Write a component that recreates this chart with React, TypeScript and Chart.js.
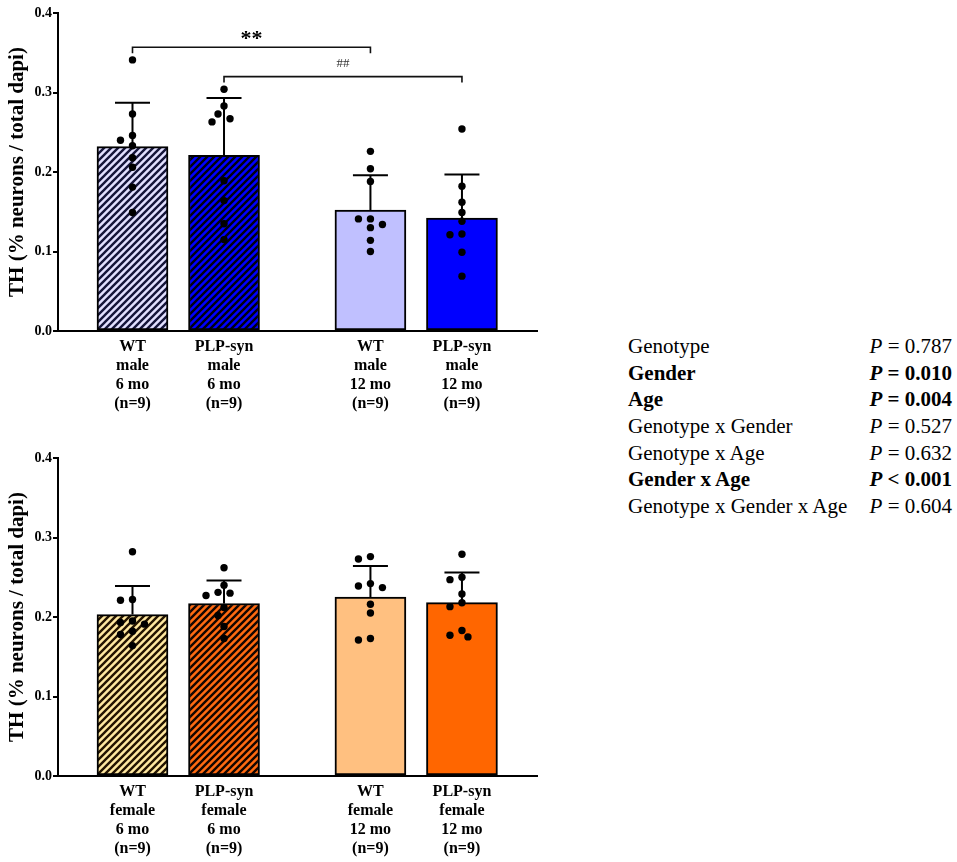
import React, { useEffect, useRef } from 'react';
import { Chart, registerables } from 'chart.js';

Chart.register(...registerables);

// ---------------- data ----------------
const positions = [0, 1, 2.6, 3.6];

const maleLabels = [
  ['WT', 'male', '6 mo', '(n=9)'],
  ['PLP-syn', 'male', '6 mo', '(n=9)'],
  ['WT', 'male', '12 mo', '(n=9)'],
  ['PLP-syn', 'male', '12 mo', '(n=9)'],
];
const femaleLabels = [
  ['WT', 'female', '6 mo', '(n=9)'],
  ['PLP-syn', 'female', '6 mo', '(n=9)'],
  ['WT', 'female', '12 mo', '(n=9)'],
  ['PLP-syn', 'female', '12 mo', '(n=9)'],
];

const maleMeans = [0.232, 0.221, 0.152, 0.142];
const maleSD = [0.055, 0.072, 0.044, 0.055];
const malePoints = [
  [0.341, 0.273, 0.246, 0.240, 0.233, 0.218, 0.206, 0.181, 0.149],
  [0.304, 0.283, 0.273, 0.267, 0.263, 0.189, 0.164, 0.135, 0.115],
  [0.226, 0.204, 0.188, 0.141, 0.141, 0.134, 0.130, 0.114, 0.100],
  [0.254, 0.182, 0.162, 0.149, 0.138, 0.121, 0.122, 0.099, 0.069],
];

const femaleMeans = [0.203, 0.217, 0.225, 0.218];
const femaleSD = [0.036, 0.029, 0.039, 0.038];
const femalePoints = [
  [0.282, 0.221, 0.222, 0.195, 0.191, 0.193, 0.182, 0.178, 0.164],
  [0.262, 0.240, 0.227, 0.231, 0.230, 0.212, 0.202, 0.188, 0.173],
  [0.276, 0.273, 0.237, 0.242, 0.239, 0.216, 0.205, 0.173, 0.171],
  [0.279, 0.250, 0.247, 0.229, 0.218, 0.213, 0.183, 0.177, 0.175],
];

const maleBrackets = [
  { from: 0, to: 2, y: 0.357, text: '**', strong: true },
  { from: 1, to: 3, y: 0.320, text: '##', strong: false },
];
const femaleBrackets: typeof maleBrackets = [];

const yTicks = [0, 0.1, 0.2, 0.3, 0.4];
const yTitle = 'TH (% neurons / total dapi)';

const statNames = ['Genotype', 'Gender', 'Age', 'Genotype x Gender', 'Genotype x Age', 'Gender x Age', 'Genotype x Gender x Age'];
const statOps = ['=', '=', '=', '=', '=', '<', '='];
const statValues = ['0.787', '0.010', '0.004', '0.527', '0.632', '0.001', '0.604'];
const statBold = [false, true, true, false, false, true, false];

// ---------------- styles ----------------
const SERIF = "'Liberation Serif', 'Times New Roman', serif";
const W = 560;
const H = 414;

type Fill = { bg: string; fg?: string };
const maleFills: Fill[] = [
  { bg: '#e2e0ff', fg: '#15153a' },
  { bg: '#0000ff', fg: '#000010' },
  { bg: '#c0c0ff' },
  { bg: '#0000ff' },
];
const femaleFills: Fill[] = [
  { bg: '#ffe8a0', fg: '#241400' },
  { bg: '#ff6a10', fg: '#140600' },
  { bg: '#ffc080' },
  { bg: '#ff6600' },
];

function makeHatch(bg: string, fg: string): CanvasPattern | string {
  const s = 7;
  const c = document.createElement('canvas');
  c.width = s;
  c.height = s;
  const g = c.getContext('2d');
  if (!g) return bg;
  g.fillStyle = bg;
  g.fillRect(0, 0, s, s);
  g.strokeStyle = fg;
  g.lineWidth = 2.4;
  g.beginPath();
  g.moveTo(0, s);
  g.lineTo(s, 0);
  g.moveTo(-s / 2, s / 2);
  g.lineTo(s / 2, -s / 2);
  g.moveTo(s / 2, s * 1.5);
  g.lineTo(s * 1.5, s / 2);
  g.stroke();
  return g.createPattern(c, 'repeat') || bg;
}

function swarm(ys: number[], step: number, minD: number): number[] {
  const order = ys.map((_, i) => i).sort((a, b) => ys[a] - ys[b]);
  const placed: { x: number; y: number }[] = [];
  const offs = ys.map(() => 0);
  const cands = [0, -1, 1, -2, 2, -3, 3];
  for (const i of order) {
    for (const k of cands) {
      const x = k * step;
      if (placed.every((p) => Math.hypot(p.x - x, p.y - ys[i]) >= minD)) {
        offs[i] = x;
        placed.push({ x, y: ys[i] });
        break;
      }
    }
  }
  return offs;
}

function makeOverlay(means: number[], sds: number[], points: number[][], brackets: typeof maleBrackets) {
  return {
    id: 'overlay',
    afterDatasetsDraw(chart: any) {
      const { ctx } = chart;
      const xs = chart.scales.x;
      const ysc = chart.scales.y;
      ctx.save();
      // error bars (upper only)
      ctx.strokeStyle = '#000';
      ctx.lineWidth = 2;
      positions.forEach((p, i) => {
        const cx = xs.getPixelForValue(p);
        const y0 = ysc.getPixelForValue(means[i]);
        const y1 = ysc.getPixelForValue(means[i] + sds[i]);
        ctx.beginPath();
        ctx.moveTo(cx, y0);
        ctx.lineTo(cx, y1);
        ctx.moveTo(cx - 17.5, y1);
        ctx.lineTo(cx + 17.5, y1);
        ctx.stroke();
      });
      // individual points
      ctx.fillStyle = '#000';
      positions.forEach((p, i) => {
        const cx = xs.getPixelForValue(p);
        const pys = points[i].map((v) => ysc.getPixelForValue(v));
        const offs = swarm(pys, 6, 8.5);
        pys.forEach((py, j) => {
          ctx.beginPath();
          ctx.arc(cx + offs[j], py, 3.7, 0, Math.PI * 2);
          ctx.fill();
        });
      });
      // significance brackets
      brackets.forEach((b) => {
        const xa = xs.getPixelForValue(positions[b.from]);
        const xb = xs.getPixelForValue(positions[b.to]);
        const yy = ysc.getPixelForValue(b.y);
        ctx.strokeStyle = '#111';
        ctx.lineWidth = 1.6;
        ctx.beginPath();
        ctx.moveTo(xa, yy + 6);
        ctx.lineTo(xa, yy);
        ctx.lineTo(xb, yy);
        ctx.lineTo(xb, yy + 6);
        ctx.stroke();
        ctx.textAlign = 'center';
        ctx.textBaseline = 'alphabetic';
        if (b.strong) {
          ctx.fillStyle = '#000';
          ctx.font = `bold 22px ${SERIF}`;
          ctx.fillText(b.text, (xa + xb) / 2, yy - 2);
        } else {
          ctx.fillStyle = '#333';
          ctx.font = `13px ${SERIF}`;
          ctx.fillText(b.text, (xa + xb) / 2, yy - 10);
        }
      });
      ctx.restore();
    },
  };
}

type PanelProps = {
  top: number;
  means: number[];
  sds: number[];
  points: number[][];
  labels: string[][];
  fills: Fill[];
  brackets: typeof maleBrackets;
};

function Panel({ top, means, sds, points, labels, fills, brackets }: PanelProps) {
  const ref = useRef<HTMLCanvasElement>(null);
  useEffect(() => {
    const canvas = ref.current;
    if (!canvas) return;
    const bgs = fills.map((f) => (f.fg ? makeHatch(f.bg, f.fg) : f.bg));
    const chart = new Chart(canvas, {
      type: 'bar',
      data: {
        datasets: [
          {
            data: positions.map((x, i) => ({ x, y: means[i] })),
            backgroundColor: bgs as any,
            borderColor: '#000',
            borderWidth: 2,
            borderSkipped: false,
            barThickness: 71,
          } as any,
        ],
      },
      options: {
        animation: false,
        responsive: false,
        events: [],
        layout: { padding: { top: 13, left: 0, right: W - 537, bottom: 0 } },
        plugins: { legend: { display: false }, tooltip: { enabled: false }, title: { display: false } },
        scales: {
          x: {
            type: 'linear',
            min: -0.814,
            max: 4.42,
            offset: false,
            grid: { display: false, drawTicks: false, offset: false },
            border: { display: true, color: '#000', width: 2 },
            afterBuildTicks: (s: any) => {
              s.ticks = positions.map((v) => ({ value: v }));
            },
            afterFit: (s: any) => {
              s.height = H - 331;
            },
            ticks: {
              autoSkip: false,
              maxRotation: 0,
              minRotation: 0,
              padding: 6,
              color: '#000',
              font: { family: SERIF, weight: 'bold', size: 16, lineHeight: 1.2 },
              callback: (_v: any, i: number) => labels[i],
            },
          },
          y: {
            min: 0,
            max: 0.4,
            afterBuildTicks: (s: any) => {
              s.ticks = yTicks.map((v) => ({ value: v }));
            },
            afterFit: (s: any) => {
              s.width = 58;
            },
            grid: { drawOnChartArea: false, drawTicks: true, tickLength: 5, color: '#000', lineWidth: 2 },
            border: { display: true, color: '#000', width: 2 },
            ticks: {
              padding: 1,
              color: '#000',
              font: { family: SERIF, weight: 'bold', size: 14 },
              callback: (v: any) => Number(v).toFixed(1),
            },
            title: {
              display: true,
              text: yTitle,
              color: '#000',
              font: { family: SERIF, weight: 'bold', size: 21 },
              padding: { top: 5, bottom: 0 },
            },
          },
        },
      },
      plugins: [makeOverlay(means, sds, points, brackets)],
    } as any);
    return () => chart.destroy();
  }, []);
  return (
    <canvas
      ref={ref}
      width={W}
      height={H}
      style={{ position: 'absolute', left: 0, top, width: W, height: H }}
    />
  );
}

function Stats() {
  return (
    <div
      style={{
        position: 'absolute',
        left: 628,
        top: 333,
        width: 324,
        fontFamily: SERIF,
        fontSize: 21,
        color: '#000',
      }}
    >
      {statNames.map((n, i) => (
        <div
          key={n}
          style={{
            display: 'flex',
            justifyContent: 'space-between',
            height: 26.67,
            lineHeight: '26.67px',
            fontWeight: statBold[i] ? 'bold' : 'normal',
            whiteSpace: 'nowrap',
          }}
        >
          <span>{n}</span>
          <span>
            <i>P</i> {statOps[i]} {statValues[i]}
          </span>
        </div>
      ))}
    </div>
  );
}

export default function App() {
  return (
    <div
      style={{
        position: 'fixed',
        left: 0,
        top: 0,
        width: 957,
        height: 862,
        overflow: 'hidden',
        background: '#fff',
      }}
    >
      <Panel top={0} means={maleMeans} sds={maleSD} points={malePoints} labels={maleLabels} fills={maleFills} brackets={maleBrackets} />
      <Panel top={445} means={femaleMeans} sds={femaleSD} points={femalePoints} labels={femaleLabels} fills={femaleFills} brackets={femaleBrackets} />
      <Stats />
    </div>
  );
}
